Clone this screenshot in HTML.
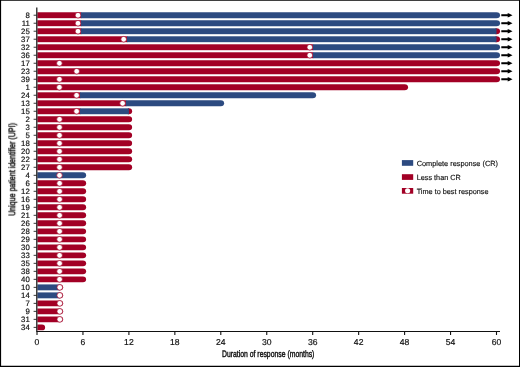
<!DOCTYPE html>
<html lang="en">
<head>
<meta charset="utf-8">
<title>Duration of response</title>
<style>
html,body{margin:0;padding:0;background:#fff;}
body{width:520px;height:367px;overflow:hidden;}
svg{display:block;}
text{will-change:opacity;opacity:0.999;text-rendering:geometricPrecision;}
text{font-family:"Liberation Sans",Arial,Helvetica,sans-serif;fill:#111;}
.tk{font-size:7.8px;stroke:#111;stroke-width:0.18px;}
.ax{font-size:9.4px;stroke:#111;stroke-width:0.42px;}
.lg{font-size:7.5px;stroke:#111;stroke-width:0.15px;}
</style>
</head>
<body>
<svg width="520" height="367" viewBox="0 0 520 367">
<rect x="0" y="0" width="520" height="367" fill="#fff"/>

<rect x="37.40" y="12.27" width="44.05" height="5.90" fill="#A20025"/>
<path d="M80.95,12.27H496.50A3.55,2.95 0 0 1 496.50,18.17H80.95Z" fill="#2C4A80"/>
<circle cx="78.00" cy="15.22" r="2.82" fill="#fff" stroke="#A20025" stroke-width="0.7"/>
<path d="M501.3,15.22H508.6" stroke="#000" stroke-width="2" fill="none"/><path d="M507.7,12.92L512.5,15.22L507.7,17.52Z" fill="#000"/>
<rect x="37.40" y="20.27" width="44.05" height="5.90" fill="#A20025"/>
<path d="M80.95,20.27H496.50A3.55,2.95 0 0 1 496.50,26.17H80.95Z" fill="#2C4A80"/>
<circle cx="78.00" cy="23.22" r="2.82" fill="#fff" stroke="#A20025" stroke-width="0.7"/>
<path d="M501.3,23.22H508.6" stroke="#000" stroke-width="2" fill="none"/><path d="M507.7,20.92L512.5,23.22L507.7,25.52Z" fill="#000"/>
<rect x="37.40" y="28.28" width="44.05" height="5.90" fill="#A20025"/>
<path d="M495.50,28.28H496.50A3.55,2.95 0 0 1 496.50,34.18H495.50Z" fill="#A20025"/>
<rect x="80.95" y="28.28" width="415.55" height="5.90" fill="#2C4A80"/>
<circle cx="78.00" cy="31.23" r="2.82" fill="#fff" stroke="#A20025" stroke-width="0.7"/>
<path d="M501.3,31.23H508.6" stroke="#000" stroke-width="2" fill="none"/><path d="M507.7,28.93L512.5,31.23L507.7,33.53Z" fill="#000"/>
<rect x="37.40" y="36.28" width="90.10" height="5.90" fill="#A20025"/>
<path d="M495.50,36.28H496.50A3.55,2.95 0 0 1 496.50,42.18H495.50Z" fill="#A20025"/>
<rect x="127.00" y="36.28" width="369.50" height="5.90" fill="#2C4A80"/>
<circle cx="123.70" cy="39.23" r="2.82" fill="#fff" stroke="#A20025" stroke-width="0.7"/>
<path d="M501.3,39.23H508.6" stroke="#000" stroke-width="2" fill="none"/><path d="M507.7,36.93L512.5,39.23L507.7,41.53Z" fill="#000"/>
<rect x="37.40" y="44.29" width="275.90" height="5.90" fill="#A20025"/>
<path d="M312.80,44.29H496.50A3.55,2.95 0 0 1 496.50,50.19H312.80Z" fill="#2C4A80"/>
<circle cx="309.80" cy="47.24" r="2.82" fill="#fff" stroke="#A20025" stroke-width="0.7"/>
<path d="M501.3,47.24H508.6" stroke="#000" stroke-width="2" fill="none"/><path d="M507.7,44.94L512.5,47.24L507.7,49.54Z" fill="#000"/>
<rect x="37.40" y="52.29" width="275.90" height="5.90" fill="#A20025"/>
<path d="M312.80,52.29H496.50A3.55,2.95 0 0 1 496.50,58.19H312.80Z" fill="#2C4A80"/>
<circle cx="309.80" cy="55.24" r="2.82" fill="#fff" stroke="#A20025" stroke-width="0.7"/>
<path d="M501.3,55.24H508.6" stroke="#000" stroke-width="2" fill="none"/><path d="M507.7,52.94L512.5,55.24L507.7,57.54Z" fill="#000"/>
<path d="M37.40,60.29H496.50A3.55,2.95 0 0 1 496.50,66.19H37.40Z" fill="#A20025"/>
<circle cx="59.40" cy="63.24" r="2.82" fill="#fff" stroke="#A20025" stroke-width="0.7"/>
<path d="M501.3,63.24H508.6" stroke="#000" stroke-width="2" fill="none"/><path d="M507.7,60.94L512.5,63.24L507.7,65.54Z" fill="#000"/>
<path d="M37.40,68.30H496.50A3.55,2.95 0 0 1 496.50,74.20H37.40Z" fill="#A20025"/>
<circle cx="76.70" cy="71.25" r="2.82" fill="#fff" stroke="#A20025" stroke-width="0.7"/>
<path d="M501.3,71.25H508.6" stroke="#000" stroke-width="2" fill="none"/><path d="M507.7,68.95L512.5,71.25L507.7,73.55Z" fill="#000"/>
<path d="M37.40,76.30H496.50A3.55,2.95 0 0 1 496.50,82.20H37.40Z" fill="#A20025"/>
<circle cx="59.40" cy="79.25" r="2.82" fill="#fff" stroke="#A20025" stroke-width="0.7"/>
<path d="M501.3,79.25H508.6" stroke="#000" stroke-width="2" fill="none"/><path d="M507.7,76.95L512.5,79.25L507.7,81.55Z" fill="#000"/>
<path d="M37.40,84.31H404.60A3.47,2.95 0 0 1 404.60,90.21H37.40Z" fill="#A20025"/>
<circle cx="59.40" cy="87.26" r="2.82" fill="#fff" stroke="#A20025" stroke-width="0.7"/>
<rect x="37.40" y="92.31" width="43.10" height="5.90" fill="#A20025"/>
<path d="M80.00,92.31H312.70A3.39,2.95 0 0 1 312.70,98.21H80.00Z" fill="#2C4A80"/>
<circle cx="76.60" cy="95.26" r="2.82" fill="#fff" stroke="#A20025" stroke-width="0.7"/>
<rect x="37.40" y="100.31" width="88.90" height="5.90" fill="#A20025"/>
<path d="M125.80,100.31H220.80A3.31,2.95 0 0 1 220.80,106.21H125.80Z" fill="#2C4A80"/>
<circle cx="122.60" cy="103.26" r="2.82" fill="#fff" stroke="#A20025" stroke-width="0.7"/>
<rect x="37.40" y="108.32" width="43.10" height="5.90" fill="#A20025"/>
<path d="M127.90,108.32H128.90A3.23,2.95 0 0 1 128.90,114.22H127.90Z" fill="#A20025"/>
<rect x="80.00" y="108.32" width="48.90" height="5.90" fill="#2C4A80"/>
<circle cx="76.60" cy="111.27" r="2.82" fill="#fff" stroke="#A20025" stroke-width="0.7"/>
<path d="M37.40,116.32H128.90A3.23,2.95 0 0 1 128.90,122.22H37.40Z" fill="#A20025"/>
<circle cx="59.50" cy="119.27" r="2.82" fill="#fff" stroke="#A20025" stroke-width="0.7"/>
<path d="M37.40,124.33H128.90A3.23,2.95 0 0 1 128.90,130.23H37.40Z" fill="#A20025"/>
<circle cx="59.50" cy="127.28" r="2.82" fill="#fff" stroke="#A20025" stroke-width="0.7"/>
<path d="M37.40,132.33H128.90A3.23,2.95 0 0 1 128.90,138.23H37.40Z" fill="#A20025"/>
<circle cx="59.50" cy="135.28" r="2.82" fill="#fff" stroke="#A20025" stroke-width="0.7"/>
<path d="M37.40,140.33H128.90A3.23,2.95 0 0 1 128.90,146.23H37.40Z" fill="#A20025"/>
<circle cx="59.50" cy="143.28" r="2.82" fill="#fff" stroke="#A20025" stroke-width="0.7"/>
<path d="M37.40,148.34H128.90A3.23,2.95 0 0 1 128.90,154.24H37.40Z" fill="#A20025"/>
<circle cx="59.50" cy="151.29" r="2.82" fill="#fff" stroke="#A20025" stroke-width="0.7"/>
<path d="M37.40,156.34H128.90A3.23,2.95 0 0 1 128.90,162.24H37.40Z" fill="#A20025"/>
<circle cx="59.50" cy="159.29" r="2.82" fill="#fff" stroke="#A20025" stroke-width="0.7"/>
<path d="M37.40,164.35H128.90A3.23,2.95 0 0 1 128.90,170.25H37.40Z" fill="#A20025"/>
<circle cx="59.50" cy="167.30" r="2.82" fill="#fff" stroke="#A20025" stroke-width="0.7"/>
<path d="M37.40,172.35H82.95A3.19,2.95 0 0 1 82.95,178.25H37.40Z" fill="#2C4A80"/>
<circle cx="59.50" cy="175.30" r="2.82" fill="#fff" stroke="#A20025" stroke-width="0.7"/>
<path d="M37.40,180.35H82.95A3.19,2.95 0 0 1 82.95,186.25H37.40Z" fill="#A20025"/>
<circle cx="59.60" cy="183.30" r="2.82" fill="#fff" stroke="#A20025" stroke-width="0.7"/>
<path d="M37.40,188.36H82.95A3.19,2.95 0 0 1 82.95,194.26H37.40Z" fill="#A20025"/>
<circle cx="59.60" cy="191.31" r="2.82" fill="#fff" stroke="#A20025" stroke-width="0.7"/>
<path d="M37.40,196.36H82.95A3.19,2.95 0 0 1 82.95,202.26H37.40Z" fill="#A20025"/>
<circle cx="59.60" cy="199.31" r="2.82" fill="#fff" stroke="#A20025" stroke-width="0.7"/>
<path d="M37.40,204.37H82.95A3.19,2.95 0 0 1 82.95,210.27H37.40Z" fill="#A20025"/>
<circle cx="59.60" cy="207.32" r="2.82" fill="#fff" stroke="#A20025" stroke-width="0.7"/>
<path d="M37.40,212.37H82.95A3.19,2.95 0 0 1 82.95,218.27H37.40Z" fill="#A20025"/>
<circle cx="59.60" cy="215.32" r="2.82" fill="#fff" stroke="#A20025" stroke-width="0.7"/>
<path d="M37.40,220.37H82.95A3.19,2.95 0 0 1 82.95,226.27H37.40Z" fill="#A20025"/>
<circle cx="59.60" cy="223.32" r="2.82" fill="#fff" stroke="#A20025" stroke-width="0.7"/>
<path d="M37.40,228.38H82.95A3.19,2.95 0 0 1 82.95,234.28H37.40Z" fill="#A20025"/>
<circle cx="59.60" cy="231.33" r="2.82" fill="#fff" stroke="#A20025" stroke-width="0.7"/>
<path d="M37.40,236.38H82.95A3.19,2.95 0 0 1 82.95,242.28H37.40Z" fill="#A20025"/>
<circle cx="59.60" cy="239.33" r="2.82" fill="#fff" stroke="#A20025" stroke-width="0.7"/>
<path d="M37.40,244.39H82.95A3.19,2.95 0 0 1 82.95,250.29H37.40Z" fill="#A20025"/>
<circle cx="59.60" cy="247.34" r="2.82" fill="#fff" stroke="#A20025" stroke-width="0.7"/>
<path d="M37.40,252.39H82.95A3.19,2.95 0 0 1 82.95,258.29H37.40Z" fill="#A20025"/>
<circle cx="59.60" cy="255.34" r="2.82" fill="#fff" stroke="#A20025" stroke-width="0.7"/>
<path d="M37.40,260.39H82.95A3.19,2.95 0 0 1 82.95,266.29H37.40Z" fill="#A20025"/>
<circle cx="59.60" cy="263.34" r="2.82" fill="#fff" stroke="#A20025" stroke-width="0.7"/>
<path d="M37.40,268.40H82.95A3.19,2.95 0 0 1 82.95,274.30H37.40Z" fill="#A20025"/>
<circle cx="59.60" cy="271.35" r="2.82" fill="#fff" stroke="#A20025" stroke-width="0.7"/>
<path d="M37.40,276.40H82.95A3.19,2.95 0 0 1 82.95,282.30H37.40Z" fill="#A20025"/>
<circle cx="59.60" cy="279.35" r="2.82" fill="#fff" stroke="#A20025" stroke-width="0.7"/>
<path d="M58.80,284.41H59.98A3.17,2.95 0 0 1 59.98,290.31H58.80Z" fill="#A20025"/>
<rect x="37.40" y="284.41" width="22.40" height="5.90" fill="#2C4A80"/>
<circle cx="59.80" cy="287.36" r="2.82" fill="#fff" stroke="#A20025" stroke-width="0.7"/>
<path d="M58.80,292.41H59.98A3.17,2.95 0 0 1 59.98,298.31H58.80Z" fill="#A20025"/>
<rect x="37.40" y="292.41" width="22.40" height="5.90" fill="#2C4A80"/>
<circle cx="59.80" cy="295.36" r="2.82" fill="#fff" stroke="#A20025" stroke-width="0.7"/>
<path d="M37.40,300.41H59.98A3.17,2.95 0 0 1 59.98,306.31H37.40Z" fill="#A20025"/>
<circle cx="59.80" cy="303.36" r="2.82" fill="#fff" stroke="#A20025" stroke-width="0.7"/>
<path d="M37.40,308.42H59.98A3.17,2.95 0 0 1 59.98,314.32H37.40Z" fill="#A20025"/>
<circle cx="59.80" cy="311.37" r="2.82" fill="#fff" stroke="#A20025" stroke-width="0.7"/>
<path d="M37.40,316.42H59.98A3.17,2.95 0 0 1 59.98,322.32H37.40Z" fill="#A20025"/>
<circle cx="59.80" cy="319.37" r="2.82" fill="#fff" stroke="#A20025" stroke-width="0.7"/>
<path d="M37.40,324.43H41.98A3.15,2.95 0 0 1 41.98,330.33H37.40Z" fill="#A20025"/>
<path d="M36.8,7.5V332.1M36.2,331.5H500" stroke="#111" stroke-width="1.2" fill="none"/>
<path d="M33.6,15.22H36.8M33.6,23.22H36.8M33.6,31.23H36.8M33.6,39.23H36.8M33.6,47.24H36.8M33.6,55.24H36.8M33.6,63.24H36.8M33.6,71.25H36.8M33.6,79.25H36.8M33.6,87.26H36.8M33.6,95.26H36.8M33.6,103.26H36.8M33.6,111.27H36.8M33.6,119.27H36.8M33.6,127.28H36.8M33.6,135.28H36.8M33.6,143.28H36.8M33.6,151.29H36.8M33.6,159.29H36.8M33.6,167.30H36.8M33.6,175.30H36.8M33.6,183.30H36.8M33.6,191.31H36.8M33.6,199.31H36.8M33.6,207.32H36.8M33.6,215.32H36.8M33.6,223.32H36.8M33.6,231.33H36.8M33.6,239.33H36.8M33.6,247.34H36.8M33.6,255.34H36.8M33.6,263.34H36.8M33.6,271.35H36.8M33.6,279.35H36.8M33.6,287.36H36.8M33.6,295.36H36.8M33.6,303.36H36.8M33.6,311.37H36.8M33.6,319.37H36.8M33.6,327.38H36.8" stroke="#222" stroke-width="0.9" fill="none"/>
<path d="M37.00,331.5V334.9M82.95,331.5V334.9M128.90,331.5V334.9M174.85,331.5V334.9M220.80,331.5V334.9M266.75,331.5V334.9M312.70,331.5V334.9M358.65,331.5V334.9M404.60,331.5V334.9M450.55,331.5V334.9M496.50,331.5V334.9" stroke="#111" stroke-width="1.1" fill="none"/>
<g class="tk" text-anchor="end">
<text x="29.8" y="17.97">8</text>
<text x="29.8" y="25.97">11</text>
<text x="29.8" y="33.98">25</text>
<text x="29.8" y="41.98">37</text>
<text x="29.8" y="49.99">32</text>
<text x="29.8" y="57.99">36</text>
<text x="29.8" y="65.99">17</text>
<text x="29.8" y="74.00">23</text>
<text x="29.8" y="82.00">39</text>
<text x="29.8" y="90.01">1</text>
<text x="29.8" y="98.01">24</text>
<text x="29.8" y="106.01">13</text>
<text x="29.8" y="114.02">15</text>
<text x="29.8" y="122.02">2</text>
<text x="29.8" y="130.03">3</text>
<text x="29.8" y="138.03">5</text>
<text x="29.8" y="146.03">18</text>
<text x="29.8" y="154.04">20</text>
<text x="29.8" y="162.04">22</text>
<text x="29.8" y="170.05">27</text>
<text x="29.8" y="178.05">4</text>
<text x="29.8" y="186.05">6</text>
<text x="29.8" y="194.06">12</text>
<text x="29.8" y="202.06">16</text>
<text x="29.8" y="210.07">19</text>
<text x="29.8" y="218.07">21</text>
<text x="29.8" y="226.07">26</text>
<text x="29.8" y="234.08">28</text>
<text x="29.8" y="242.08">29</text>
<text x="29.8" y="250.09">30</text>
<text x="29.8" y="258.09">33</text>
<text x="29.8" y="266.09">35</text>
<text x="29.8" y="274.10">38</text>
<text x="29.8" y="282.10">40</text>
<text x="29.8" y="290.11">10</text>
<text x="29.8" y="298.11">14</text>
<text x="29.8" y="306.11">7</text>
<text x="29.8" y="314.12">9</text>
<text x="29.8" y="322.12">31</text>
<text x="29.8" y="330.13">34</text>
</g>
<g class="tk" text-anchor="middle" style="font-size:8.6px">
<text x="37.00" y="345.15">0</text>
<text x="82.95" y="345.15">6</text>
<text x="128.90" y="345.15">12</text>
<text x="174.85" y="345.15">18</text>
<text x="220.80" y="345.15">24</text>
<text x="266.75" y="345.15">30</text>
<text x="312.70" y="345.15">36</text>
<text x="358.65" y="345.15">42</text>
<text x="404.60" y="345.15">48</text>
<text x="450.55" y="345.15">54</text>
<text x="496.50" y="345.15">60</text>
</g>
<text class="ax" x="222" y="357.4" textLength="92.4" lengthAdjust="spacingAndGlyphs">Duration of response (months)</text>
<text class="ax" transform="translate(15.2,215.8) rotate(-90)" x="0" y="0" textLength="92.8" lengthAdjust="spacingAndGlyphs">Unique patient identifier (UPI)</text>
<rect x="401.9" y="160.1" width="11.3" height="5.7" fill="#2C4A80"/>
<rect x="401.9" y="174.2" width="11.3" height="5.7" fill="#A20025"/>
<rect x="401.9" y="188.0" width="11.3" height="5.7" fill="#A20025"/>
<ellipse cx="407.6" cy="190.85" rx="2.6" ry="2.5" fill="#fff"/>
<g class="lg">
<text x="416.7" y="165.8" textLength="81.3" lengthAdjust="spacingAndGlyphs">Complete response (CR)</text>
<text x="416.7" y="179.8" textLength="44.1" lengthAdjust="spacingAndGlyphs">Less than CR</text>
<text x="416.7" y="193.5" textLength="71.8" lengthAdjust="spacingAndGlyphs">Time to best response</text>
</g>
<path d="M0,0H520V367H0Z M1.1,0.85V365.8H519V0.85Z" fill="#000" fill-rule="evenodd"/>
</svg>
</body>
</html>
